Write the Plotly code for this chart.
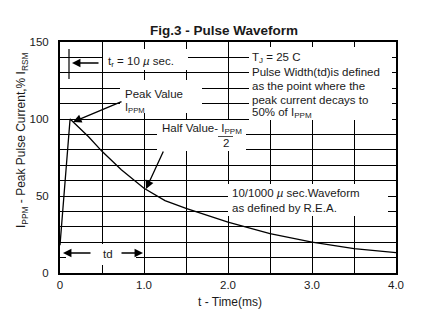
import plotly.graph_objects as go

# ---- data ----
time_ms = [0, 0.12, 0.34, 0.5, 0.73, 1.0, 1.25, 1.5, 2.0, 2.5, 3.0, 3.5, 4.0]
current_pct = [18, 100, 88.5, 79, 67, 55, 47, 42, 33, 25.5, 20, 15.8, 13.2]
x_tickvals = [0, 1, 2, 3, 4]
x_ticktext = ["0", "1.0", "2.0", "3.0", "4.0"]
y_tickvals = [0, 50, 100, 150]
y_ticktext = ["0", "50", "100", "150"]

W, H = 428, 330
L, R, T, B = 60, 32, 42, 57
PW, PH = W - L - R, H - T - B
XR, YR = (0, 4), (0, 150)


def dx(px):
    return XR[0] + (px - L) / PW * (XR[1] - XR[0])


def dy(py):
    return YR[0] + (H - B - py) / PH * (YR[1] - YR[0])


FONT = "Arial, Liberation Sans, sans-serif"
TXT = "#1a1a1a"

fig = go.Figure()
fig.add_trace(go.Scatter(x=time_ms, y=current_pct, mode="lines",
                         line=dict(color="black", width=1.3), hoverinfo="skip",
                         showlegend=False))

ann = []
shapes = []


def wbox(x0, y0, x1, y1):
    shapes.append(dict(type="rect", xref="x", yref="y", layer="above",
                       x0=dx(x0), x1=dx(x1), y0=dy(y0), y1=dy(y1),
                       fillcolor="white", line=dict(width=0)))


def label(x0, yc, text, size=11.5):
    ann.append(dict(x=dx(x0), y=dy(yc), xref="x", yref="y", xanchor="left", yanchor="middle",
                    text=text, showarrow=False, align="left",
                    font=dict(family=FONT, size=size, color=TXT)))


def arrow(tx, ty, hx, hy):
    ann.append(dict(x=dx(hx), y=dy(hy), ax=dx(tx), ay=dy(ty), xref="x", yref="y",
                    axref="x", ayref="y", text="", showarrow=True, arrowhead=2,
                    arrowsize=1.3, arrowwidth=1.3, arrowcolor="black", standoff=0))


# white boxes that hide the grid lines behind the notes
wbox(103, 49, 188, 70)
wbox(120, 80, 202, 113)
wbox(157, 120, 246, 151)
wbox(249, 47, 392, 120)
wbox(228, 184, 388, 216)
wbox(66, 244, 136, 265)

# tr marker (drawn over the white box)
shapes.append(dict(type="line", xref="x", yref="y", layer="above",
                   x0=dx(69), x1=dx(69), y0=dy(49), y1=dy(79),
                   line=dict(color="black", width=1.2)))
# fraction bar of I_PPM / 2
shapes.append(dict(type="line", xref="x", yref="y", layer="above",
                   x0=dx(218), x1=dx(233), y0=dy(136.5), y1=dy(136.5),
                   line=dict(color=TXT, width=0.8)))

# notes
label(106, 62, "t<sub>r</sub> = 10 <i>µ</i> sec.")
label(123, 94, "Peak Value")
label(123, 108, "I<sub>PPM</sub>", size=11)
label(160, 129, "Half Value- I<sub>PPM</sub>")
label(221, 143, "2")
label(250, 58, "T<sub>J</sub> = 25 C")
label(250, 72, "Pulse Width(td)is defined")
label(250, 86, "as the point where the")
label(250, 99.5, "peak current decays to")
label(250, 113, "50% of I<sub>PPM</sub>")
label(230, 193, "10/1000 <i>µ</i> sec.Waveform")
label(230, 208, "as defined by R.E.A.")
label(101, 254, "td")

# arrows
arrow(30, 63, 58, 63)
arrow(100, 63, 72, 63)
arrow(123, 101, 73, 122)
arrow(164, 150, 146, 189)
arrow(92, 253, 63, 253)
arrow(120, 253, 143, 253)

# axis titles
ann.append(dict(x=(22 - L) / PW, y=(H - B - 140) / PH, xref="paper", yref="paper",
                xanchor="center", yanchor="middle",
                text="I<sub>PPM</sub> - Peak Pulse Current,% I<sub>RSM</sub>", textangle=-90,
                showarrow=False, font=dict(family=FONT, size=12, color=TXT)))
ann.append(dict(x=(230 - L) / PW, y=(H - B - 302) / PH, xref="paper", yref="paper",
                xanchor="center", yanchor="middle",
                text="t - Time(ms)", showarrow=False,
                font=dict(family=FONT, size=12, color=TXT)))

fig.update_layout(
    width=W, height=H, margin=dict(l=L, r=R, t=T, b=B),
    paper_bgcolor="white", plot_bgcolor="white",
    title=dict(text="<b>Fig.3 - Pulse Waveform</b>", x=224 / W, xanchor="center",
               y=1 - 30 / H, yanchor="middle", font=dict(family=FONT, size=13.5, color=TXT)),
    annotations=ann, shapes=shapes,
    xaxis=dict(range=list(XR), tickvals=x_tickvals, ticktext=x_ticktext,
               showgrid=True, gridcolor="black", gridwidth=1, zeroline=False,
               showline=True, mirror=True, linecolor="black", linewidth=2,
               ticks="", ticklabelstandoff=0,
               minor=dict(dtick=0.5, tick0=0, ticks="", showgrid=True, gridcolor="black", gridwidth=1),
               tickfont=dict(family=FONT, size=11.5, color=TXT)),
    yaxis=dict(range=list(YR), tickvals=y_tickvals, ticktext=y_ticktext,
               showgrid=True, gridcolor="black", gridwidth=1, zeroline=False,
               showline=True, mirror=True, linecolor="black", linewidth=2,
               ticks="", ticklabelstandoff=7,
               minor=dict(dtick=10, tick0=0, ticks="", showgrid=True, gridcolor="black", gridwidth=1),
               tickfont=dict(family=FONT, size=11.5, color=TXT)),
)

fig.write_html("out.html")
